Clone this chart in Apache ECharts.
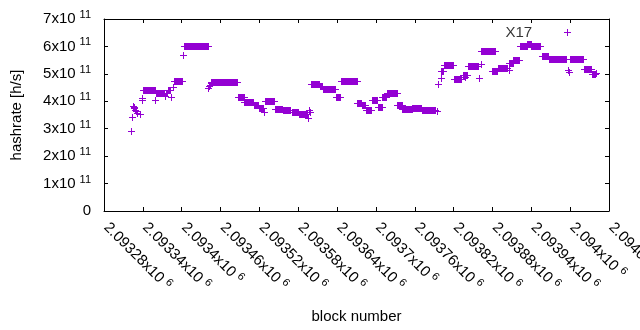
<!DOCTYPE html>
<html>
<head>
<meta charset="utf-8">
<script src="https://cdn.jsdelivr.net/npm/echarts@6/dist/echarts.min.js"></script>
<style>
  html, body { margin: 0; padding: 0; background: #fff; }
  #chart { width: 640px; height: 330px; }
</style>
</head>
<body>
<div id="chart"></div>
<script>
// runs of blocks with the same hashrate: first block, last block, hashrate [h/s]
const runStart = [
  2093321, 2093323, 2093325, 2093326, 2093327, 2093328, 2093330, 2093331, 2093336, 2093338,
  2093339, 2093340, 2093359, 2093360, 2093374, 2093375, 2093379, 2093383, 2093386, 2093388,
  2093402, 2093404, 2093440, 2093442, 2093443, 2093445, 2093446, 2093487, 2093497, 2093512,
  2093519, 2093527, 2093529, 2093544, 2093556, 2093570, 2093581, 2093595, 2093597, 2093598,
  2093600, 2093613, 2093618, 2093638, 2093646, 2093671, 2093678, 2093684, 2093694, 2093703,
  2093710, 2093717, 2093733, 2093741, 2093756, 2093771, 2093794, 2093796, 2093800, 2093801,
  2093805, 2093821, 2093834, 2093837, 2093842, 2093859, 2093863, 2093863, 2093880, 2093888,
  2093905, 2093906, 2093912, 2093922, 2093934, 2093940, 2093957, 2093967, 2093995, 2093997,
  2093998, 2093999, 2094022, 2094033, 2094040
];
const runEnd = [
  2093321, 2093323, 2093325, 2093326, 2093327, 2093328, 2093330, 2093331, 2093336, 2093338,
  2093339, 2093358, 2093359, 2093373, 2093374, 2093378, 2093382, 2093383, 2093386, 2093401,
  2093402, 2093441, 2093440, 2093442, 2093443, 2093445, 2093486, 2093497, 2093510, 2093518,
  2093525, 2093527, 2093543, 2093555, 2093567, 2093580, 2093594, 2093595, 2093597, 2093598,
  2093612, 2093617, 2093637, 2093645, 2093670, 2093677, 2093683, 2093693, 2093702, 2093709,
  2093716, 2093732, 2093740, 2093755, 2093770, 2093792, 2093794, 2093796, 2093800, 2093804,
  2093819, 2093832, 2093841, 2093837, 2093858, 2093859, 2093863, 2093884, 2093887, 2093902,
  2093905, 2093911, 2093921, 2093933, 2093939, 2093953, 2093966, 2093994, 2093995, 2093997,
  2093998, 2094020, 2094032, 2094038, 2094040
];
const runRate = [
  2.93e11, 3.42e11, 3.84e11, 3.78e11, 3.74e11, 3.70e11, 3.65e11, 3.58e11, 3.52e11, 4.12e11,
  4.05e11, 4.40e11, 4.04e11, 4.29e11, 4.20e11, 4.32e11, 4.40e11, 4.16e11, 4.53e11, 4.73e11,
  5.69e11, 6.00e11, 4.50e11, 4.56e11, 4.61e11, 4.65e11, 4.69e11, 4.15e11, 3.96e11, 3.85e11,
  3.76e11, 3.62e11, 4.00e11, 3.73e11, 3.67e11, 3.60e11, 3.52e11, 3.38e11, 3.70e11, 3.60e11,
  4.64e11, 4.55e11, 4.43e11, 4.15e11, 4.73e11, 3.95e11, 3.85e11, 3.68e11, 4.05e11, 3.80e11,
  4.15e11, 4.32e11, 3.85e11, 3.72e11, 3.75e11, 3.70e11, 3.65e11, 4.62e11, 4.84e11, 5.10e11,
  5.31e11, 4.83e11, 4.97e11, 4.90e11, 5.28e11, 4.84e11, 5.35e11, 5.82e11, 5.10e11, 5.22e11,
  5.14e11, 5.40e11, 5.50e11, 6.00e11, 6.08e11, 6.00e11, 5.66e11, 5.55e11, 6.51e11, 5.15e11,
  5.05e11, 5.55e11, 5.17e11, 5.00e11, 5.04e11
];

// axis ranges / ticks
const blockMin = 2093280, blockMax = 2094060, blockStep = 60;
const rateMin = 0, rateMax = 7e11, rateStep = 1e11;

// label on the plot
const noteText = 'X17';
const noteBlock = 2093900;
const noteRate = 6.5e11;

const purple = '#9400d3';
const font = 'Liberation Sans, Arial, sans-serif';

const richSup = {
  v: { fontSize: 15, fontFamily: font, color: '#000', lineHeight: 15 },
  s: { fontSize: 11, fontFamily: font, color: '#000', lineHeight: 11, padding: [0, 0, 8, 4] }
};
const richSupX = {
  v: { fontSize: 15, fontFamily: font, color: '#000', lineHeight: 15, padding: [0, 0, 0, 3] },
  s: richSup.s
};

const runs = runStart.map((s, i) => [s, runEnd[i], runRate[i]]);

const chart = echarts.init(document.getElementById('chart'));
chart.setOption({
  animation: false,
  backgroundColor: '#fff',
  grid: { left: 104, right: 31, top: 19, bottom: 119, containLabel: false, outerBoundsMode: 'none' },
  xAxis: [
    {
      type: 'value', position: 'bottom',
      min: blockMin, max: blockMax, interval: blockStep,
      name: 'block number', nameLocation: 'middle', nameGap: 98,
      nameTextStyle: { fontSize: 15, fontFamily: font, color: '#000' },
      axisLine: { show: true, onZero: false, lineStyle: { color: '#000', width: 1 } },
      axisTick: { show: true, inside: true, length: 4, lineStyle: { color: '#000' } },
      splitLine: { show: false },
      axisLabel: {
        rotate: -45, margin: 12, hideOverlap: false,
        showMinLabel: true, showMaxLabel: true,
        formatter: (v) => '{v|' + parseFloat((v / 1e6).toPrecision(6)) + 'x10}{s|6}',
        rich: richSupX
      }
    },
    {
      type: 'value', position: 'top',
      min: blockMin, max: blockMax, interval: blockStep,
      axisLine: { show: true, onZero: false, lineStyle: { color: '#000', width: 1 } },
      axisTick: { show: true, inside: true, length: 4, lineStyle: { color: '#000' } },
      axisLabel: { show: false },
      splitLine: { show: false }
    }
  ],
  yAxis: [
    {
      type: 'value', position: 'left',
      min: rateMin, max: rateMax, interval: rateStep,
      name: 'hashrate [h/s]', nameLocation: 'middle', nameGap: 80, nameRotate: 90,
      nameTextStyle: { fontSize: 15, fontFamily: font, color: '#000' },
      axisLine: { show: true, onZero: false, lineStyle: { color: '#000', width: 1 } },
      axisTick: { show: true, inside: true, length: 4, lineStyle: { color: '#000' } },
      splitLine: { show: false },
      axisLabel: {
        margin: 13,
        formatter: (v) => v === 0 ? '{v|0}' : '{v|' + Math.round(v / 1e11) + 'x10}{s|11}',
        rich: richSup
      }
    },
    {
      type: 'value', position: 'right',
      min: rateMin, max: rateMax, interval: rateStep,
      axisLine: { show: true, onZero: false, lineStyle: { color: '#000', width: 1 } },
      axisTick: { show: true, inside: true, length: 4, lineStyle: { color: '#000' } },
      axisLabel: { show: false },
      splitLine: { show: false }
    }
  ],
  series: [
    {
      // each run is drawn as gnuplot '+' points laid side by side
      type: 'custom',
      xAxisIndex: 0, yAxisIndex: 0,
      data: runs,
      renderItem(params, api) {
        const a = api.coord([api.value(0), api.value(2)]);
        const b = api.coord([api.value(1), api.value(2)]);
        const x1 = Math.round(a[0]);
        const x2 = Math.round(b[0]);
        const y = Math.round(a[1]);
        return {
          type: 'group',
          children: [
            { type: 'rect', shape: { x: x1, y: y - 3, width: x2 - x1 + 1, height: 7 }, style: { fill: purple } },
            { type: 'rect', shape: { x: x1 - 3, y: y, width: x2 - x1 + 7, height: 1 }, style: { fill: purple } }
          ]
        };
      }
    },
    {
      type: 'scatter',
      xAxisIndex: 0, yAxisIndex: 0,
      symbolSize: 0,
      data: [[noteBlock, noteRate]],
      label: {
        show: true, position: 'right', distance: 0,
        formatter: noteText,
        fontSize: 15, fontFamily: font, color: '#000'
      },
      silent: true
    }
  ]
});
</script>
</body>
</html>
